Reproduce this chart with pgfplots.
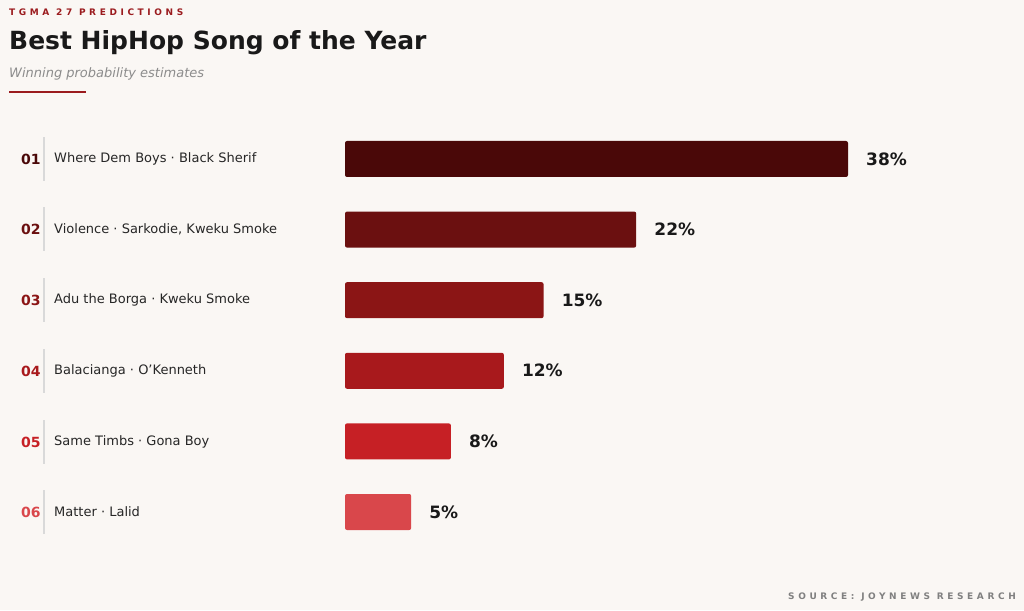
\documentclass[border=0pt]{standalone}
\usepackage{pgfplots}
\pgfplotsset{compat=1.18}
\usepackage{fontspec}
\setmainfont{DejaVu Sans}
\newfontfamily\spaced[LetterSpace=40]{DejaVu Sans}
\definecolor{bg}{HTML}{FAF7F4}
\definecolor{c1}{HTML}{4A0808}
\definecolor{c2}{HTML}{6B1010}
\definecolor{c3}{HTML}{8B1515}
\definecolor{c4}{HTML}{A8191C}
\definecolor{c5}{HTML}{C62025}
\definecolor{c6}{HTML}{D9474B}
\definecolor{accent}{HTML}{9B1B1E}
\begin{document}
\begin{tikzpicture}[x=1pt,y=1pt]
\fill[bg] (0,0) rectangle (1024,610);
\node[anchor=base west,text=accent,font=\spaced\bfseries\fontsize{9}{10}\selectfont,inner sep=0] at (9,610-16) {TGMA 27 PREDICTIONS};
\node[anchor=base west,text=black!90,font=\bfseries\fontsize{25}{28}\selectfont,inner sep=0] at (9,610-50) {Best HipHop Song of the Year};
\node[anchor=base west,text=black!45,font=\itshape\fontsize{13}{15}\selectfont,inner sep=0] at (9,610-78) {Winning probability estimates};
\draw[accent,line width=2.5pt] (9,610-92) -- (86,610-92);
\node[anchor=base east,text=black!50,font=\spaced\bfseries\fontsize{9}{10}\selectfont,inner sep=0] at (1016,610-599) {SOURCE: JOYNEWS RESEARCH};
\foreach \y/\r/\c/\t in {159/01/c1/{Where Dem Boys · Black Sherif},229/02/c2/{Violence · Sarkodie, Kweku Smoke},300/03/c3/{Adu the Borga · Kweku Smoke},371/04/c4/{Balacianga · O'Kenneth},442/05/c5/{Same Timbs · Gona Boy},512/06/c6/{Matter · Lalid}}{
  \node[anchor=west,text=\c,font=\bfseries\fontsize{14}{16}\selectfont,inner sep=0] at (21,610-\y) {\r};
  \draw[black!15,line width=1.2pt] (44,610-\y-22) -- (44,610-\y+22);
  \node[anchor=west,text=black!85,font=\fontsize{13}{15}\selectfont,inner sep=0] at (54,610-\y) {\t};
}
\begin{axis}[at={(345pt,486.3pt)},anchor=north west,scale only axis,
  width=503pt,height=423.6pt,xmin=0,xmax=38,ymin=-0.5,ymax=5.5,y dir=reverse,
  axis lines=none,xbar,bar width=36pt,bar shift=0pt,clip=false,
  /pgf/number format/assume math mode=true,
  nodes near coords={\pgfmathprintnumber{\pgfplotspointmeta}\%},
  nodes near coords style={font=\bfseries\fontsize{17}{19}\selectfont,text=black!90,anchor=west,inner sep=0pt,xshift=18pt},
  point meta=explicit]
\addplot[fill=c1,draw=none,rounded corners=2pt] coordinates {(38,0) [38]};
\addplot[fill=c2,draw=none,rounded corners=2pt] coordinates {(22,1) [22]};
\addplot[fill=c3,draw=none,rounded corners=2pt] coordinates {(15,2) [15]};
\addplot[fill=c4,draw=none,rounded corners=2pt] coordinates {(12,3) [12]};
\addplot[fill=c5,draw=none,rounded corners=2pt] coordinates {(8,4) [8]};
\addplot[fill=c6,draw=none,rounded corners=2pt] coordinates {(5,5) [5]};
\end{axis}
\end{tikzpicture}
\end{document}
